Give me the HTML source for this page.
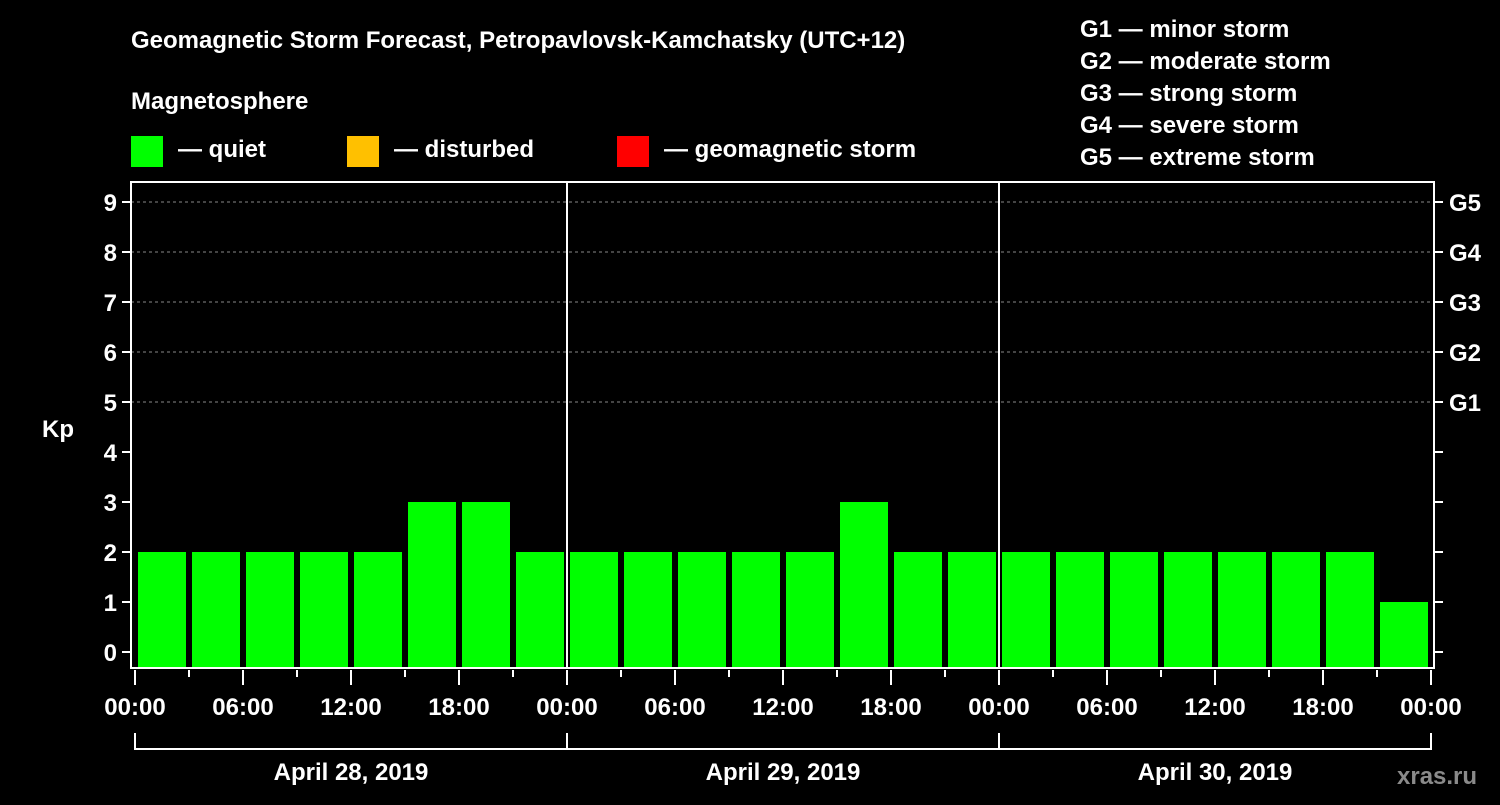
<!DOCTYPE html>
<html><head><meta charset="utf-8"><style>
body{margin:0;background:#000;width:1500px;height:800px;overflow:hidden}
svg text{font-family:"Liberation Sans",Arial,sans-serif;font-weight:bold;fill:#fff}
</style></head><body>
<svg id="c" width="1500" height="800">
<text x="131" y="48" font-size="24">Geomagnetic Storm Forecast, Petropavlovsk-Kamchatsky (UTC+12)</text>
<text x="131" y="109" font-size="24">Magnetosphere</text>
<g><rect x="131" y="136" width="32" height="31" fill="#00ff00"/><text x="178" y="157" font-size="24">— quiet</text></g>
<g><rect x="347" y="136" width="32" height="31" fill="#ffc000"/><text x="394" y="157" font-size="24">— disturbed</text></g>
<g><rect x="617" y="136" width="32" height="31" fill="#ff0000"/><text x="664" y="157" font-size="24">— geomagnetic storm</text></g>
<g font-size="24">
<text x="1080" y="37">G1 — minor storm</text>
<text x="1080" y="69">G2 — moderate storm</text>
<text x="1080" y="101">G3 — strong storm</text>
<text x="1080" y="133">G4 — severe storm</text>
<text x="1080" y="165">G5 — extreme storm</text>
</g>
<text x="42" y="437" font-size="24">Kp</text>
<text x="1397" y="784" font-size="24" fill="#888" style="fill:#8a8a8a">xras.ru</text>
<g id="plot"></g>
</svg>
<script>
const kpValues=[2,2,2,2,2,3,3,2, 2,2,2,2,2,3,2,2, 2,2,2,2,2,2,2,1];
const dayLabels=["April 28, 2019","April 29, 2019","April 30, 2019"];
const hourLabels=["00:00","06:00","12:00","18:00"];
const yTicks=[0,1,2,3,4,5,6,7,8,9];
const gLabels=["G1","G2","G3","G4","G5"];
const NS="http://www.w3.org/2000/svg";
const g=document.getElementById('plot');
const L=131,R=1434,T=182,B=668,X0=135,HR=18;
const y=v=>652-v*50;
const x=h=>X0+h*HR;
function mk(t,a){const e=document.createElementNS(NS,t);for(const k in a)e.setAttribute(k,a[k]);g.appendChild(e);return e;}
// grid
for(let v=5;v<=9;v++){const l=mk('line',{x1:L,x2:R,y1:y(v),y2:y(v),stroke:'#888','stroke-dasharray':'3,3','stroke-width':1});

}
// bars
kpValues.forEach((v,i)=>{const colr=v>=5?'#ff0000':(v>=4?'#ffc000':'#00ff00');
const r=mk('rect',{x:x(i*3)+3,y:y(v),width:48,height:B-y(v),fill:colr});

});
// day separators
for(let d=1;d<dayLabels.length;d++){const l=mk('line',{x1:x(d*24),x2:x(d*24),y1:T,y2:B,stroke:'#fff','stroke-width':2});

}
// frame
const f=mk('rect',{x:L,y:T,width:R-L,height:B-T,fill:'none',stroke:'#fff','stroke-width':2});


// y ticks
yTicks.forEach(v=>{mk('line',{x1:L-9,x2:L,y1:y(v),y2:y(v),stroke:'#fff','stroke-width':2});
mk('line',{x1:R,x2:R+9,y1:y(v),y2:y(v),stroke:'#fff','stroke-width':2});
const t=mk('text',{x:L-14,y:y(v)+9,'font-size':24,'text-anchor':'end'});t.textContent=v;

});
gLabels.forEach((s,i)=>{const t=mk('text',{x:1449,y:y(i+5)+9,'font-size':24});t.textContent=s;

});
// x ticks
const nd=dayLabels.length;
for(let h=0;h<=nd*24;h+=3){const big=h%6===0;mk('line',{x1:x(h),x2:x(h),y1:B+2,y2:big?B+17:B+9,stroke:'#fff','stroke-width':2});
if(big){const lab=hourLabels[(h%24)/6];const t=mk('text',{x:x(h),y:715,'font-size':24,'text-anchor':'middle'});t.textContent=lab;

}}
// day brackets
mk('line',{x1:x(0),x2:x(nd*24),y1:749,y2:749,stroke:'#fff','stroke-width':2});
for(let d=0;d<=nd;d++)mk('line',{x1:x(d*24),x2:x(d*24),y1:733,y2:750,stroke:'#fff','stroke-width':2});
dayLabels.forEach((s,d)=>{const t=mk('text',{x:x(d*24+12),y:780,'font-size':24,'text-anchor':'middle'});t.textContent=s;

});
</script>
</body></html>
